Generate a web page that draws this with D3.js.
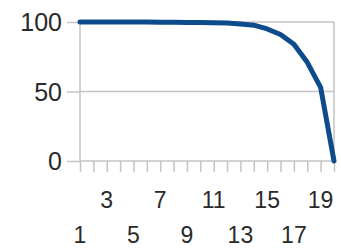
<!DOCTYPE html>
<html>
<head>
<meta charset="utf-8">
<script src="https://cdn.jsdelivr.net/npm/d3@7"></script>
<style>
  html, body { margin: 0; padding: 0; background: #fff; }
  svg { display: block; font-family: "Liberation Sans", Arial, sans-serif; }
  .grid line { stroke: #c4c4c4; stroke-width: 1.5; }
</style>
</head>
<body>
<div id="chart"></div>
<script>
// survival-style curve: percent remaining per step
const categories = d3.range(1, 21);
const values = [100, 100, 100, 100, 100, 100, 99.9, 99.8, 99.7, 99.6,
                99.5, 99.2, 98.6, 97.7, 95, 91, 84, 71, 53, 0];
const yTicks = [0, 50, 100];

const width = 341, height = 252;
const m = { top: 22, right: 7, bottom: 91, left: 80 };
const gridColor = "#c4c4c4";
const ink = "#2a2a2a";

const svg = d3.select("#chart").append("svg")
  .attr("width", width).attr("height", height);

const x = d3.scalePoint(categories, [m.left, width - m.right]);
const y = d3.scaleLinear([0, 100], [height - m.bottom, m.top]);

// horizontal gridlines + left ticks
svg.append("g").attr("class", "grid")
  .attr("transform", `translate(${m.left},0)`)
  .call(d3.axisLeft(y).tickValues(yTicks).tickSize(13).tickFormat(""))
  .call(g => g.select(".domain").remove());
svg.append("g").attr("class", "grid")
  .selectAll("line").data(yTicks).join("line")
  .attr("x1", m.left).attr("x2", width - m.right)
  .attr("y1", d => y(d)).attr("y2", d => y(d));

// y labels
svg.append("g").selectAll("text").data(yTicks).join("text")
  .attr("x", m.left - 18).attr("y", d => y(d) + 9)
  .attr("text-anchor", "end")
  .attr("font-size", 25).attr("fill", ink)
  .text(d => d);

// frame: left and right edges
svg.append("line").attr("stroke", gridColor).attr("stroke-width", 1.5)
  .attr("x1", m.left).attr("x2", m.left).attr("y1", m.top).attr("y2", y(0));
svg.append("line").attr("stroke", gridColor).attr("stroke-width", 1.5)
  .attr("x1", width - m.right).attr("x2", width - m.right)
  .attr("y1", m.top).attr("y2", y(0));

// x ticks, one per category
svg.append("g").attr("class", "grid")
  .attr("transform", `translate(0,${y(0)})`)
  .call(d3.axisBottom(x).tickSize(11).tickFormat(""))
  .call(g => g.select(".domain").remove());

// staggered x labels on odd categories: 3,7,11.. up top, 1,5,9.. below
svg.append("g").selectAll("text")
  .data(categories.filter(c => c % 2 === 1))
  .join("text")
  .attr("x", d => x(d))
  .attr("y", d => (d % 4 === 3 ? 208 : 243))
  .attr("text-anchor", "middle")
  .attr("font-size", 23).attr("fill", ink)
  .text(d => d);

// series
svg.append("path")
  .attr("fill", "none")
  .attr("stroke", "#0e4b8c")
  .attr("stroke-width", 5)
  .attr("stroke-linejoin", "round")
  .attr("stroke-linecap", "round")
  .attr("d", d3.line()
    .x((_, i) => x(categories[i]))
    .y(v => y(v))(values));
</script>
</body>
</html>
